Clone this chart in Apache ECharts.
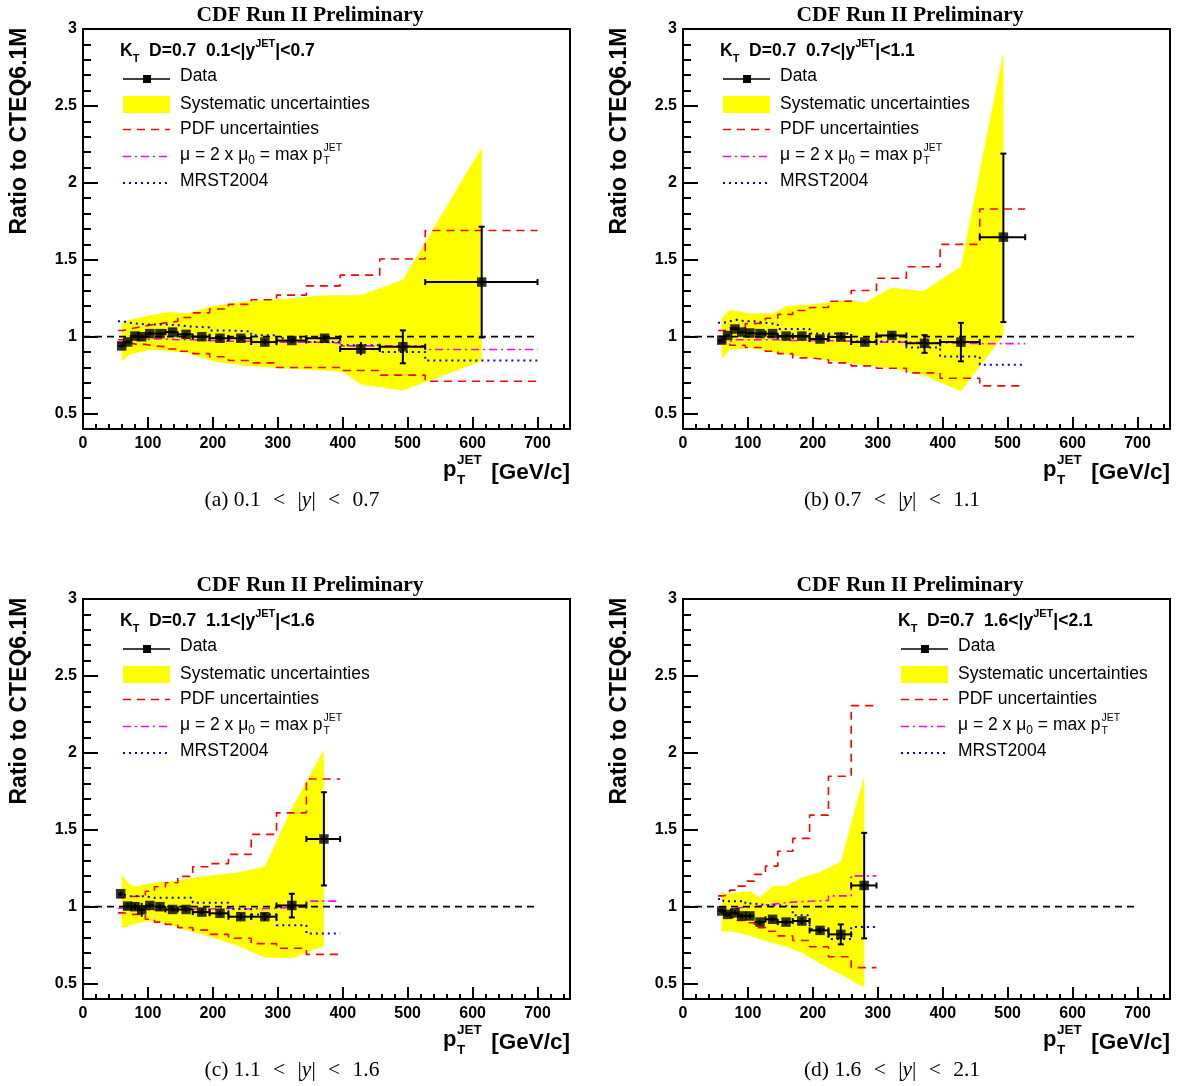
<!DOCTYPE html>
<html>
<head>
<meta charset="utf-8">
<script src="https://cdn.jsdelivr.net/npm/echarts@6/dist/echarts.min.js"></script>
<style>
html, body { margin: 0; padding: 0; background: #fff; }
#chart { width: 1177px; height: 1086px; }
</style>
</head>
<body>
<div id="chart"></div>
<script>
// pT bin edges (GeV/c), shared by all rapidity regions
const binEdges = [54, 62, 72, 83, 96, 110, 127, 146, 169, 195, 224, 259, 298, 344, 396, 457, 527, 700];

const xMajorTicks = [0, 100, 200, 300, 400, 500, 600, 700];
const yMajorTicks = [0.5, 1, 1.5, 2, 2.5, 3];
const xMinorTicks = [];
for (let v = 20; v < 750; v += 20) if (v % 100) xMinorTicks.push(v);
const yMinorTicks = [];
for (let k = 4; k < 30; k++) if (k % 5) yMinorTicks.push(k / 10);

// (a) 0.1<|y|<0.7
const aX = [59.6, 68.8, 80, 90.4, 103, 118.6, 138, 158.7, 183, 211, 243, 280, 321.6, 372, 428, 492.6, 614];
const aY = [0.94, 0.966, 1.004, 1.0, 1.02, 1.02, 1.03, 1.015, 1.0, 0.99, 0.99, 0.965, 0.975, 0.99, 0.92, 0.935, 1.355];
const aErrUp = [0.01, 0.01, 0.01, 0.01, 0.01, 0.01, 0.01, 0.01, 0.01, 0.012, 0.012, 0.015, 0.015, 0.02, 0.045, 0.106, 0.36];
const aErrDn = [0.01, 0.01, 0.01, 0.01, 0.01, 0.01, 0.01, 0.01, 0.01, 0.012, 0.012, 0.015, 0.015, 0.02, 0.04, 0.108, 0.36];
const aSysX = [59.6, 72, 103, 134, 160, 200, 252, 324, 372, 400, 428, 492.6, 614];
const aSysHi = [1.09, 1.11, 1.14, 1.16, 1.15, 1.20, 1.23, 1.25, 1.27, 1.27, 1.27, 1.37, 2.23];
const aSysLo = [0.84, 0.885, 0.915, 0.905, 0.895, 0.84, 0.81, 0.79, 0.78, 0.77, 0.69, 0.65, 0.84];
const aPdfHi = [1.04, 1.05, 1.06, 1.07, 1.08, 1.09, 1.10, 1.125, 1.155, 1.18, 1.21, 1.24, 1.27, 1.33, 1.40, 1.505, 1.69];
const aPdfLo = [0.98, 0.96, 0.95, 0.95, 0.94, 0.935, 0.92, 0.905, 0.89, 0.87, 0.845, 0.83, 0.80, 0.80, 0.78, 0.75, 0.71];
const aMu = [0.96, 0.97, 0.975, 0.98, 0.985, 0.985, 0.98, 0.98, 0.975, 0.97, 0.97, 0.965, 0.965, 0.96, 0.94, 0.94, 0.917];
const aMrst = [1.10, 1.09, 1.085, 1.08, 1.08, 1.08, 1.075, 1.065, 1.06, 1.04, 1.035, 1.01, 0.99, 0.965, 0.945, 0.90, 0.845];

// (b) 0.7<|y|<1.1
const bX = [59.6, 68.8, 80, 90.4, 103, 118.6, 138, 158.7, 183, 211, 243, 280, 321.6, 372, 428, 493.4];
const bY = [0.978, 1.008, 1.05, 1.03, 1.024, 1.02, 1.02, 1.004, 1.004, 0.985, 0.998, 0.965, 1.008, 0.957, 0.965, 1.647];
const bErrUp = [0.01, 0.01, 0.01, 0.01, 0.01, 0.01, 0.01, 0.01, 0.01, 0.01, 0.012, 0.015, 0.015, 0.053, 0.125, 0.543];
const bErrDn = [0.01, 0.01, 0.01, 0.01, 0.01, 0.01, 0.01, 0.01, 0.01, 0.01, 0.012, 0.015, 0.015, 0.062, 0.125, 0.552];
const bSysX = [59.6, 72, 103, 138, 160, 200, 252, 280, 321.6, 370, 428, 493.4];
const bSysHi = [1.12, 1.175, 1.15, 1.15, 1.20, 1.21, 1.24, 1.22, 1.32, 1.295, 1.456, 2.85];
const bSysLo = [0.855, 0.915, 0.927, 0.90, 0.885, 0.86, 0.83, 0.815, 0.795, 0.75, 0.645, 1.01];
const bPdfHi = [1.04, 1.045, 1.06, 1.06, 1.085, 1.09, 1.12, 1.145, 1.17, 1.19, 1.23, 1.30, 1.38, 1.455, 1.60, 1.83];
const bPdfLo = [0.97, 0.97, 0.944, 0.944, 0.93, 0.93, 0.905, 0.89, 0.862, 0.85, 0.83, 0.81, 0.795, 0.765, 0.73, 0.68];
const bMu = [0.96, 0.97, 0.98, 0.98, 0.98, 0.98, 0.98, 0.975, 0.975, 0.975, 0.97, 0.965, 0.965, 0.96, 0.955, 0.955];
const bMrst = [1.09, 1.10, 1.11, 1.10, 1.10, 1.09, 1.08, 1.05, 1.05, 1.02, 1.02, 0.97, 0.965, 0.93, 0.872, 0.818];

// (c) 1.1<|y|<1.6
const cX = [58, 68.8, 80, 90.4, 103, 118.6, 138, 158.7, 183, 211, 243, 280, 321.6, 371];
const cY = [1.084, 1.004, 1.0, 0.98, 1.008, 1.0, 0.982, 0.982, 0.965, 0.957, 0.935, 0.935, 1.008, 1.44];
const cErrUp = [0.015, 0.02, 0.02, 0.045, 0.015, 0.015, 0.015, 0.015, 0.015, 0.015, 0.02, 0.025, 0.076, 0.304];
const cErrDn = [0.015, 0.02, 0.02, 0.045, 0.015, 0.015, 0.015, 0.015, 0.015, 0.015, 0.02, 0.025, 0.078, 0.302];
const cSysX = [59.6, 68.8, 80, 103, 118.6, 138, 183, 236, 280, 321.6, 371];
const cSysHi = [1.21, 1.155, 1.13, 1.15, 1.16, 1.165, 1.197, 1.22, 1.26, 1.64, 2.02];
const cSysLo = [0.864, 0.87, 0.89, 0.906, 0.90, 0.875, 0.82, 0.75, 0.67, 0.665, 0.744];
const cPdfHi = [1.06, 1.065, 1.068, 1.068, 1.10, 1.13, 1.156, 1.197, 1.26, 1.28, 1.34, 1.47, 1.61, 1.83];
const cPdfLo = [0.96, 0.95, 0.95, 0.95, 0.918, 0.90, 0.885, 0.864, 0.848, 0.82, 0.795, 0.76, 0.73, 0.69];
const cMu = [0.99, 0.985, 0.985, 0.98, 0.98, 0.98, 0.98, 0.985, 0.985, 0.99, 0.985, 0.99, 1.0, 1.036];
const cMrst = [1.08, 1.068, 1.068, 1.068, 1.058, 1.058, 1.058, 1.058, 1.026, 1.026, 0.985, 0.95, 0.88, 0.825];

// (d) 1.6<|y|<2.1
const dX = [59.6, 68.8, 80, 90.4, 103, 118.6, 138, 158.7, 183, 211, 243, 279];
const dY = [0.972, 0.95, 0.96, 0.94, 0.94, 0.90, 0.918, 0.90, 0.907, 0.846, 0.82, 1.138];
const dErrUp = [0.015, 0.015, 0.015, 0.015, 0.015, 0.015, 0.015, 0.015, 0.02, 0.02, 0.065, 0.342];
const dErrDn = [0.015, 0.015, 0.015, 0.015, 0.015, 0.015, 0.015, 0.015, 0.02, 0.02, 0.065, 0.344];
const dSysX = [59.6, 68.8, 80, 103, 118.6, 138, 158.7, 183, 211, 243, 279];
const dSysHi = [1.10, 1.08, 1.09, 1.10, 1.06, 1.134, 1.134, 1.19, 1.225, 1.29, 1.848];
const dSysLo = [0.835, 0.84, 0.835, 0.81, 0.79, 0.766, 0.74, 0.70, 0.63, 0.56, 0.474];
const dPdfHi = [1.07, 1.08, 1.108, 1.134, 1.166, 1.21, 1.264, 1.36, 1.444, 1.595, 1.848, 2.307];
const dPdfLo = [0.97, 0.95, 0.93, 0.91, 0.896, 0.864, 0.84, 0.81, 0.78, 0.74, 0.675, 0.604];
const dMu = [0.98, 0.98, 0.99, 1.0, 1.0, 1.01, 1.02, 1.03, 1.035, 1.04, 1.07, 1.20];
const dMrst = [1.05, 1.036, 1.036, 1.036, 1.02, 1.01, 1.01, 1.0, 0.944, 0.853, 0.79, 0.868];

const unityX = [0, 700];

const panels = [
  { ox: 0, oy: 0, lx: 0, tag: 'a', lo: '0.1', hi: '0.7', x: aX, y: aY, up: aErrUp, dn: aErrDn,
    sysX: aSysX, sysHi: aSysHi, sysLo: aSysLo, pdfHi: aPdfHi, pdfLo: aPdfLo, mu: aMu, mrst: aMrst },
  { ox: 600, oy: 0, lx: 600, tag: 'b', lo: '0.7', hi: '1.1', x: bX, y: bY, up: bErrUp, dn: bErrDn,
    sysX: bSysX, sysHi: bSysHi, sysLo: bSysLo, pdfHi: bPdfHi, pdfLo: bPdfLo, mu: bMu, mrst: bMrst },
  { ox: 0, oy: 570, lx: 0, tag: 'c', lo: '1.1', hi: '1.6', x: cX, y: cY, up: cErrUp, dn: cErrDn,
    sysX: cSysX, sysHi: cSysHi, sysLo: cSysLo, pdfHi: cPdfHi, pdfLo: cPdfLo, mu: cMu, mrst: cMrst },
  { ox: 600, oy: 570, lx: 778, tag: 'd', lo: '1.6', hi: '2.1', x: dX, y: dY, up: dErrUp, dn: dErrDn,
    sysX: dSysX, sysHi: dSysHi, sysLo: dSysLo, pdfHi: dPdfHi, pdfLo: dPdfLo, mu: dMu, mrst: dMrst }
];

const SANS = 'Liberation Sans, Arial, sans-serif';
const SERIF = 'Liberation Serif, Times New Roman, serif';
const PDF_DASH = [8, 6];
const MU_DASH = [8, 4, 2, 4];
const MRST_DASH = [2, 4];
const LEG_FONT = '17.5px ' + SANS;

// width of the mu legend text, to hang the pT indices right after it
const measure = document.createElement('canvas').getContext('2d');
function textWidth(txt, font) { measure.font = font; return measure.measureText(txt).width; }
const muHeadWidth = textWidth('\u03bc = 2 x \u03bc', LEG_FONT) + textWidth('0', '12px ' + SANS) +
  textWidth(' = max p', LEG_FONT);

function stepData(vals) {
  const d = vals.map((v, i) => [binEdges[i], v]);
  d.push([binEdges[vals.length], vals[vals.length - 1]]);
  return d;
}

const grids = [], xAxes = [], yAxes = [], series = [], graphics = [];

panels.forEach((p, i) => {
  grids.push({ left: 83 + p.ox, top: 29 + p.oy, width: 487, height: 400,
    show: true, borderColor: '#000', borderWidth: 2, backgroundColor: 'transparent' });

  const xBase = { gridIndex: i, type: 'value', min: 0, max: 750, position: 'bottom', splitLine: { show: false } };
  xAxes.push(Object.assign({}, xBase, {
    axisLine: { lineStyle: { color: '#000', width: 2 } },
    axisTick: { inside: true, length: 12, customValues: xMajorTicks, lineStyle: { color: '#000', width: 2 } },
    axisLabel: { customValues: xMajorTicks, color: '#000', fontFamily: SANS, fontWeight: 'bold', fontSize: 16, margin: 7 }
  }));
  xAxes.push(Object.assign({}, xBase, {
    axisLine: { show: false },
    axisTick: { inside: true, length: 5, customValues: xMinorTicks, lineStyle: { color: '#000', width: 2 } },
    axisLabel: { show: false }
  }));
  const yBase = { gridIndex: i, type: 'value', min: 0.4, max: 3, position: 'left', splitLine: { show: false } };
  yAxes.push(Object.assign({}, yBase, {
    axisLine: { show: true, lineStyle: { color: '#000', width: 2 } },
    axisTick: { show: true, inside: true, length: 15, customValues: yMajorTicks, lineStyle: { color: '#000', width: 2 } },
    axisLabel: { customValues: yMajorTicks, color: '#000', fontFamily: SANS, fontWeight: 'bold', fontSize: 16, margin: 6 }
  }));
  yAxes.push(Object.assign({}, yBase, {
    axisLine: { show: false },
    axisTick: { show: true, inside: true, length: 8, customValues: yMinorTicks, lineStyle: { color: '#000', width: 2 } },
    axisLabel: { show: false }
  }));

  const ax = { xAxisIndex: 2 * i, yAxisIndex: 2 * i };

  // systematic band
  series.push(Object.assign({
    type: 'custom', z: 1, silent: true,
    data: p.sysX.map((v, k) => [v, p.sysLo[k], p.sysHi[k]]),
    encode: { x: 0, y: [1, 2] },
    renderItem: function (params, api) {
      if (params.dataIndex !== 0) return null;
      const pts = [];
      for (let k = 0; k < p.sysX.length; k++) pts.push(api.coord([p.sysX[k], p.sysHi[k]]));
      for (let k = p.sysX.length - 1; k >= 0; k--) pts.push(api.coord([p.sysX[k], p.sysLo[k]]));
      return { type: 'polygon', shape: { points: pts }, style: { fill: '#ffff00' } };
    }
  }, ax));

  const stepLine = (vals, color, dash, width) => Object.assign({
    type: 'line', step: 'end', symbol: 'none', z: 2, silent: true,
    lineStyle: { color: color, width: width, type: dash },
    data: stepData(vals)
  }, ax);
  series.push(stepLine(p.pdfHi, '#ff0000', PDF_DASH, 1.6));
  series.push(stepLine(p.pdfLo, '#ff0000', PDF_DASH, 1.6));
  series.push(stepLine(p.mu, '#ff00ff', MU_DASH, 1.6));
  series.push(stepLine(p.mrst, '#0000ff', MRST_DASH, 2));

  series.push(Object.assign({
    type: 'line', symbol: 'none', z: 3, silent: true,
    lineStyle: { color: '#000', width: 1.8, type: [7, 5] },
    data: unityX.map(v => [v, 1])
  }, ax));

  // data error bars
  series.push(Object.assign({
    type: 'custom', z: 4, silent: true,
    data: p.x.map((v, k) => [v, p.y[k], binEdges[k], binEdges[k + 1], p.y[k] - p.dn[k], p.y[k] + p.up[k]]),
    encode: { x: 0, y: 1 },
    renderItem: function (params, api) {
      const c = api.coord([api.value(0), api.value(1)]);
      const l = api.coord([api.value(2), api.value(1)]);
      const r = api.coord([api.value(3), api.value(1)]);
      const t = api.coord([api.value(0), api.value(5)]);
      const b = api.coord([api.value(0), api.value(4)]);
      const st = { stroke: '#000', lineWidth: 2 };
      const kids = [
        { type: 'line', shape: { x1: l[0], y1: c[1], x2: r[0], y2: c[1] }, style: st },
        { type: 'line', shape: { x1: c[0], y1: t[1], x2: c[0], y2: b[1] }, style: st }
      ];
      if (c[0] - l[0] > 7) kids.push({ type: 'line', shape: { x1: l[0], y1: c[1] - 3, x2: l[0], y2: c[1] + 3 }, style: st });
      if (r[0] - c[0] > 7) kids.push({ type: 'line', shape: { x1: r[0], y1: c[1] - 3, x2: r[0], y2: c[1] + 3 }, style: st });
      if (c[1] - t[1] > 7) kids.push({ type: 'line', shape: { x1: c[0] - 3, y1: t[1], x2: c[0] + 3, y2: t[1] }, style: st });
      if (b[1] - c[1] > 7) kids.push({ type: 'line', shape: { x1: c[0] - 3, y1: b[1], x2: c[0] + 3, y2: b[1] }, style: st });
      return { type: 'group', children: kids };
    }
  }, ax));

  series.push(Object.assign({
    type: 'scatter', symbol: 'rect', symbolSize: 9.5, z: 5, silent: true,
    itemStyle: { color: '#000' },
    data: p.x.map((v, k) => [v, p.y[k]])
  }, ax));

  // texts around the frame
  const ox = p.ox, oy = p.oy, lx = p.lx;
  graphics.push({ type: 'text', x: 310 + ox, y: 15 + oy,
    style: { text: 'CDF Run II Preliminary', font: 'bold 21.5px ' + SERIF, fill: '#000', align: 'center', verticalAlign: 'middle' } });
  graphics.push({ type: 'text', x: 20 + ox, y: 131 + oy, rotation: Math.PI / 2,
    style: { text: 'Ratio to CTEQ6.1M', font: 'bold 23px ' + SANS, fill: '#000', align: 'center', verticalAlign: 'middle' } });
  graphics.push({ type: 'text', x: 570 + ox, y: 473 + oy,
    style: { text: '[GeV/c]', font: 'bold 22.5px ' + SANS, fill: '#000', align: 'right', verticalAlign: 'middle' } });
  graphics.push({ type: 'text', x: 443 + ox, y: 470 + oy,
    style: { text: 'p', font: 'bold 22px ' + SANS, fill: '#000', align: 'left', verticalAlign: 'middle' } });
  graphics.push({ type: 'text', x: 457 + ox, y: 460 + oy,
    style: { text: 'JET', font: 'bold 13.5px ' + SANS, fill: '#000', align: 'left', verticalAlign: 'middle' } });
  graphics.push({ type: 'text', x: 457 + ox, y: 480 + oy,
    style: { text: 'T', font: 'bold 13.5px ' + SANS, fill: '#000', align: 'left', verticalAlign: 'middle' } });
  graphics.push({ type: 'text', x: 292 + ox, y: 500 + oy,
    style: {
      text: '{n|(' + p.tag + ') ' + p.lo + ' }{s|<}{n| |}{i|y}{n|| }{s|<}{n| ' + p.hi + '}',
      align: 'center', verticalAlign: 'middle',
      rich: {
        n: { font: '21.5px ' + SERIF, fill: '#000' },
        s: { font: '21.5px ' + SERIF, fill: '#000', padding: [0, 7] },
        i: { font: 'italic 21.5px ' + SERIF, fill: '#000' }
      }
    } });

  // legend block
  graphics.push({ type: 'text', x: 120 + lx, y: 51 + oy,
    style: {
      text: '{b|K}{sub|T}{b|  D=0.7  ' + p.lo + '<|y}{sup|JET}{b||<' + p.hi + '}',
      align: 'left', verticalAlign: 'middle',
      rich: {
        b: { font: 'bold 17.5px ' + SANS, fill: '#000', lineHeight: 26 },
        sub: { font: 'bold 11px ' + SANS, fill: '#000', verticalAlign: 'bottom', lineHeight: 26 },
        sup: { font: 'bold 11px ' + SANS, fill: '#000', verticalAlign: 'top', lineHeight: 26 }
      }
    } });
  const lt = (y, txt) => graphics.push({ type: 'text', x: 180 + lx, y: y + oy,
    style: { text: txt, font: LEG_FONT, fill: '#000', align: 'left', verticalAlign: 'middle' } });
  const ll = (y, color, dash, w) => graphics.push({ type: 'line', shape: { x1: 123 + lx, y1: y + oy, x2: 170 + lx, y2: y + oy },
    style: { stroke: color, lineWidth: w, lineDash: dash } });
  ll(79, '#000', null, 1.6);
  graphics.push({ type: 'rect', shape: { x: 143 + lx, y: 75 + oy, width: 8, height: 8 }, style: { fill: '#000' } });
  lt(76.5, 'Data');
  graphics.push({ type: 'rect', shape: { x: 123 + lx, y: 96 + oy, width: 47, height: 17 }, style: { fill: '#ffff00' } });
  lt(104.5, 'Systematic uncertainties');
  ll(129.5, '#ff0000', PDF_DASH, 1.6);
  lt(129.5, 'PDF uncertainties');
  ll(156.5, '#ff00ff', MU_DASH, 1.6);
  graphics.push({ type: 'text', x: 180 + lx, y: 155 + oy,
    style: {
      text: '{n|\u03bc = 2 x \u03bc}{sub|0}{n| = max p}',
      align: 'left', verticalAlign: 'middle',
      rich: {
        n: { font: LEG_FONT, fill: '#000', lineHeight: 23 },
        sub: { font: '12px ' + SANS, fill: '#000', verticalAlign: 'bottom', lineHeight: 23 }
      }
    } });
  graphics.push({ type: 'text', x: 181 + muHeadWidth + lx, y: 148 + oy,
    style: { text: 'JET', font: '10.5px ' + SANS, fill: '#000', align: 'left', verticalAlign: 'middle' } });
  graphics.push({ type: 'text', x: 181 + muHeadWidth + lx, y: 161 + oy,
    style: { text: 'T', font: '10.5px ' + SANS, fill: '#000', align: 'left', verticalAlign: 'middle' } });
  ll(183, '#0000ff', MRST_DASH, 2);
  lt(181, 'MRST2004');
});

const chart = echarts.init(document.getElementById('chart'));
chart.setOption({
  animation: false,
  backgroundColor: '#fff',
  grid: grids,
  xAxis: xAxes,
  yAxis: yAxes,
  series: series,
  graphic: graphics
});
</script>
</body>
</html>
